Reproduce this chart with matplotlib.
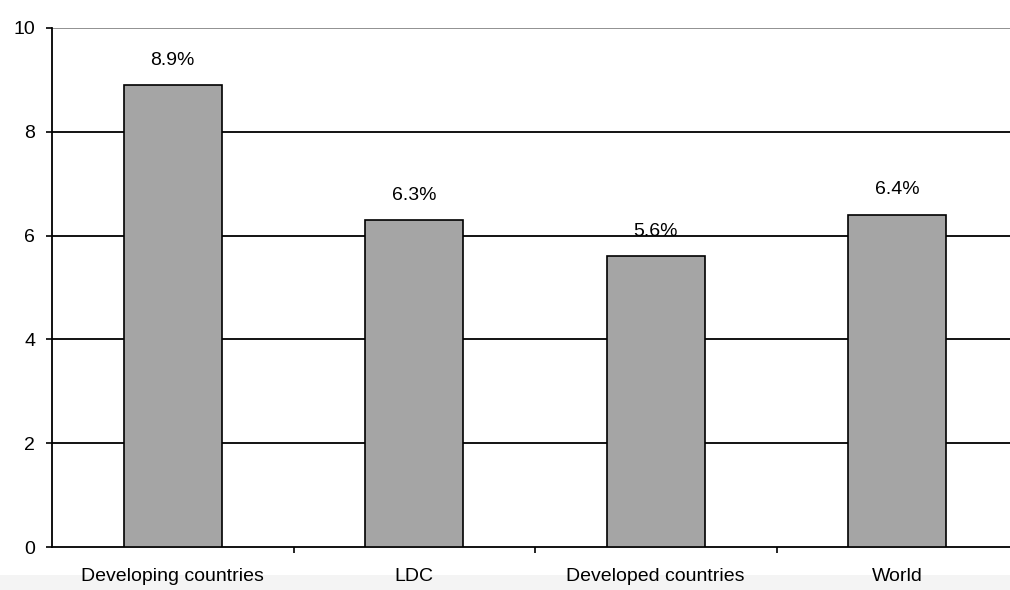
import matplotlib.pyplot as plt
from matplotlib.patches import Rectangle

regions = ["Developing countries", "LDC", "Developed countries", "World"]
rates = [8.9, 6.3, 5.6, 6.4]
labels = ["8.9%", "6.3%", "5.6%", "6.4%"]
y_ticks = [0, 2, 4, 6, 8, 10]

plt.rcParams['font.family'] = ['Liberation Sans', 'DejaVu Sans']
fs = 14

fig = plt.figure(figsize=(10.1, 5.9), dpi=100)
# faint grey band along the bottom edge, behind the axes
fig.patches.append(Rectangle((0, 0), 1, 15 / 590, transform=fig.transFigure,
                             facecolor='#f4f4f4', edgecolor='none', zorder=-1))
ax = fig.add_axes([52 / 1010, 1 - 547 / 590, 966 / 1010, 519 / 590])
ax.set_zorder(2)
ax.patch.set_alpha(0)

x = range(len(regions))
ax.bar(x, rates, width=0.405, color='#a5a5a5', edgecolor='black', linewidth=1.2, zorder=3)

for i, (v, t) in enumerate(zip(rates, labels)):
    ax.annotate(t, (i, v), xytext=(0, 25), textcoords='offset pixels',
                ha='center', va='center', fontsize=fs, zorder=4)

ax.set_xlim(-0.5, 3.5)
ax.set_ylim(0, 10)
ax.set_yticks(y_ticks)
ax.set_yticklabels([str(t) for t in y_ticks], fontsize=fs)
for t in y_ticks[1:-1]:
    ax.axhline(t, color='black', linewidth=1.3, zorder=1)
ax.axhline(10, color='#888888', linewidth=1.3, zorder=1)

# category labels sit between the boundary ticks
ax.set_xticks([i + 0.5 for i in x])
ax.tick_params(axis='x', length=4, width=1.2, direction='out', labelbottom=False)
ax.set_xticks(list(x), minor=True)
ax.set_xticklabels(regions, minor=True, fontsize=fs)
ax.tick_params(axis='x', which='minor', length=0, pad=15)
ax.tick_params(axis='y', length=4, width=1.2, direction='out', pad=8)

for s in ['top', 'right']:
    ax.spines[s].set_visible(False)
ax.spines['left'].set_linewidth(1.3)
ax.spines['bottom'].set_linewidth(1.3)

fig.savefig('out.png', dpi=100)
